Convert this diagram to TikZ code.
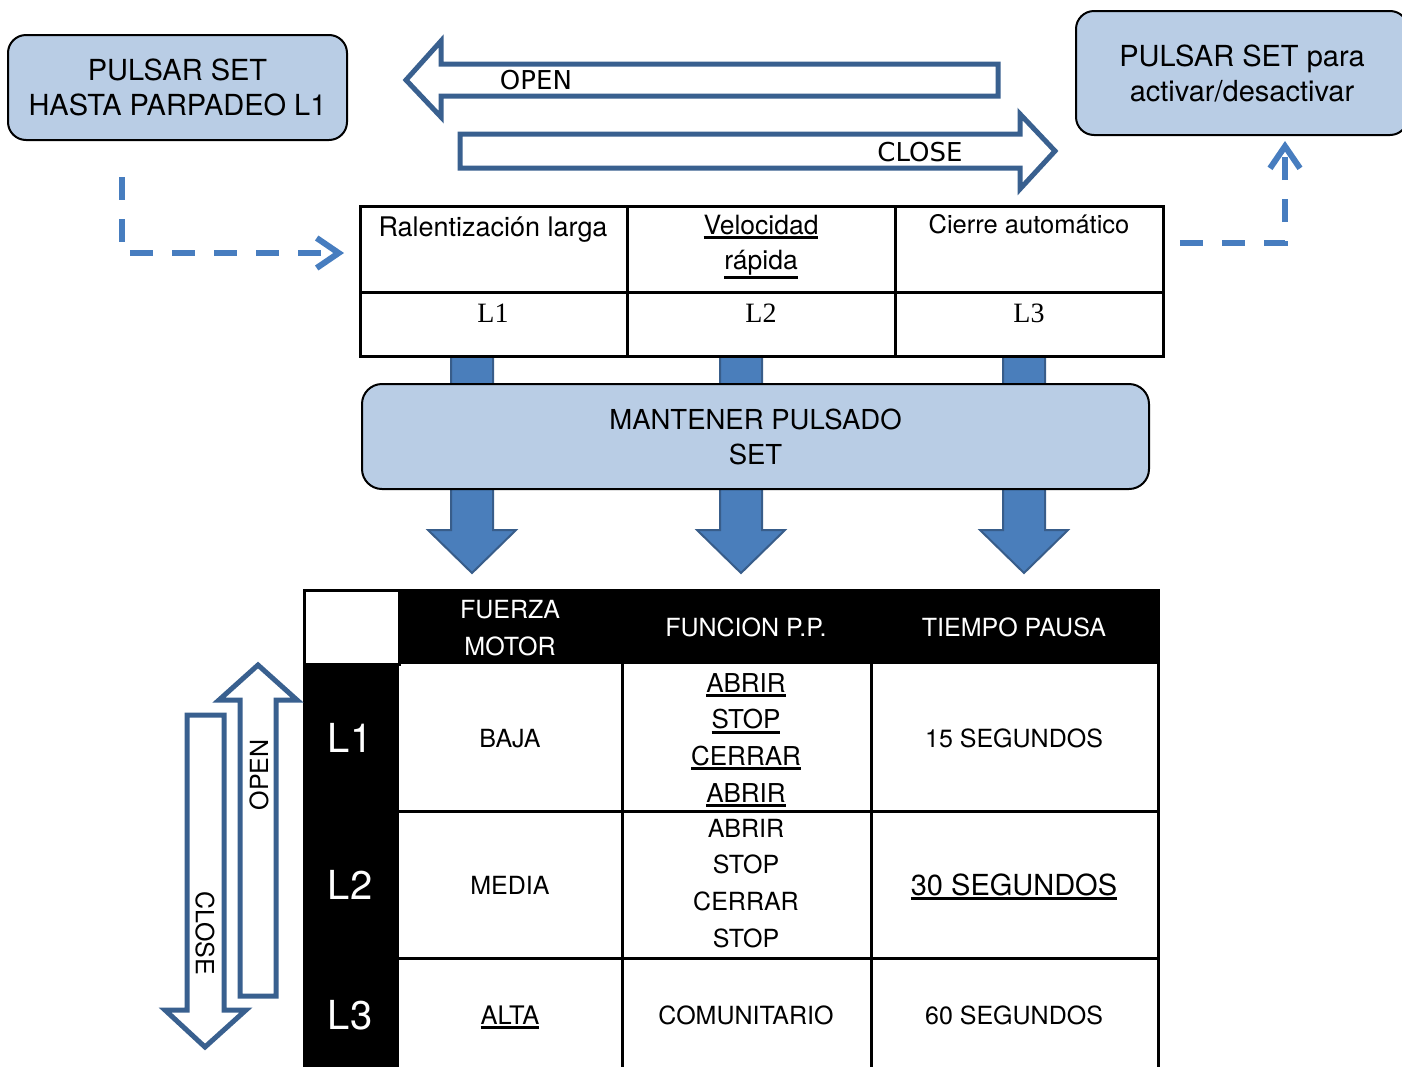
\documentclass[tikz,border=0pt]{standalone}
\usepackage{fontspec}
\setmainfont{TeX Gyre Heros}
\newfontfamily\verafont{DejaVu Sans}
\newfontfamily\timesfont{Liberation Serif}
\usetikzlibrary{arrows.meta}

\definecolor{boxblue}{RGB}{185,205,229}
\definecolor{frameblue}{RGB}{57,96,143}
\definecolor{blockblue}{RGB}{74,126,187}
\definecolor{blockedge}{RGB}{56,93,138}
\definecolor{dashblue}{RGB}{71,125,191}

\newcommand{\fs}[2]{\fontsize{#1}{#2}\selectfont}
\newcommand{\ulword}[1]{\setbox0\hbox{#1}\leavevmode\rlap{\vrule height -\dimexpr\dp0+1.5pt\relax depth \dimexpr\dp0+4.5pt\relax width \wd0}\box0}

\tikzset{
  setbox/.style={draw=black, line width=2pt, fill=boxblue, rounded corners=18pt,
    align=center, inner sep=0pt, font=\fs{29}{35}},
  hollow/.style={draw=frameblue, line width=5pt, fill=white},
  block/.style={draw=blockedge, line width=2pt, fill=blockblue},
  dashlink/.style={draw=dashblue, line width=6pt, dash pattern=on 23pt off 19pt,
    -{Straight Barb[length=22pt,width=30pt]}},
  gridline/.style={draw=black, line width=3pt},
  lbl/.style={inner sep=0pt, anchor=base},
  celltxt/.style={lbl, font=\fs{25}{30}},
}

\begin{document}
\begin{tikzpicture}[x=1pt,y=-1pt]
\useasboundingbox (0,0) rectangle (1402,1066);

% set boxes
\node[setbox, minimum width=339pt, minimum height=105pt] (pulsarL) at (177.5,87.5) {PULSAR SET\\HASTA PARPADEO L1};
\node[setbox, minimum width=332pt, minimum height=124pt] (pulsarR) at (1242,73) {PULSAR SET para\\activar/desactivar};

% open / close arrows on top
\draw[hollow] (998,64) -- (441,64) -- (441,41) -- (406,80) -- (441,117) -- (441,96) -- (998,96) -- cycle;
\node[font=\verafont\fs{26}{30}, inner sep=0pt] (openT) at (536,80) {OPEN};
\draw[hollow] (460,134) -- (1020,134) -- (1020,114) -- (1055,151) -- (1020,189) -- (1020,168) -- (460,168) -- cycle;
\node[font=\verafont\fs{26}{30}, inner sep=0pt] (closeT) at (920,152) {CLOSE};

% dashed links
\coordinate (fromL) at (122,177);
\coordinate (bendL) at (122,253);
\coordinate (toL) at (344,253);
\draw[dashlink] (fromL) -- (bendL) -- (toL);
\coordinate (fromR) at (1180,243);
\coordinate (bendR) at (1285,243);
\coordinate (toR) at (1285,141);
\draw[dashlink] (fromR) -- (bendR) -- (toR);

% block arrows down
\foreach \xc in {472,741,1024}
  \draw[block] ({\xc-21},356) -- ({\xc+21},356) -- ({\xc+21},530) -- ({\xc+44},530)
    -- (\xc,573) -- ({\xc-44},530) -- ({\xc-21},530) -- cycle;

% upper table
\draw[gridline] (360,206) rectangle (1163,356);
\draw[gridline] (360,292) -- (1163,292);
\draw[gridline] (627,206) -- (627,356) (895,206) -- (895,356);
\node[lbl, font=\fs{27}{32}] (ralen) at (493,236) {Ralentización larga};
\node[lbl, font=\fs{26.5}{32}] (veloc) at (761,234) {\ulword{Velocidad}};
\node[lbl, font=\fs{26.5}{32}] (rapida) at (761,269) {\ulword{rápida}};
\node[lbl, font=\fs{25.5}{30}] (cierre) at (1029,233) {Cierre automático};
\foreach \lv/\xc in {1/493,2/761,3/1029}
  \node[lbl, font=\timesfont\fs{28}{32}] (up\lv) at (\xc,322) {L\lv};

% hold box
\node[setbox, font=\fs{27.5}{35}, rounded corners=20pt, minimum width=787pt, minimum height=105pt] (hold) at (755.5,436.5) {MANTENER PULSADO\\SET};

% lower table
\fill[black] (399,590) rectangle (1158,664);
\fill[black] (304,664) rectangle (399,1070);
\draw[gridline] (304,1070) -- (304,590) -- (1158,590) -- (1158,1070);
\draw[gridline] (304,664) -- (399,664) -- (399,590);
\draw[gridline] (399,811) -- (1158,811) (399,958) -- (1158,958);
\draw[gridline] (622,664) -- (622,1070) (871,664) -- (871,1070);

\node[celltxt, text=white] (fuerza) at (510,618) {FUERZA};
\node[celltxt, text=white] (motor) at (510,655) {MOTOR};
\node[celltxt, text=white] (funcion) at (746,636) {FUNCION P.P.};
\node[celltxt, text=white] (tiempo) at (1014,636) {TIEMPO PAUSA};
\foreach \lv/\yb in {1/752,2/899,3/1029}
  \node[lbl, font=\fs{40}{48}, text=white] (lev\lv) at (350,\yb) {L\lv};

\node[celltxt] (baja) at (510,747) {BAJA};
\node[celltxt] (media) at (510,894) {MEDIA};
\node[celltxt, font=\fs{25.5}{30}] (alta) at (510,1024) {\ulword{ALTA}};

\foreach \w [count=\k] in {ABRIR,STOP,CERRAR,ABRIR}
  \node[celltxt, font=\fs{26}{30}] (ppA\k) at (746,{692+36.7*(\k-1)}) {\ulword{\w}};
\foreach \w [count=\k] in {ABRIR,STOP,CERRAR,STOP}
  \node[celltxt] (ppB\k) at (746,{837+36.7*(\k-1)}) {\w};
\node[celltxt] (comun) at (746,1024) {COMUNITARIO};

\node[celltxt] (t15) at (1014,747) {15 SEGUNDOS};
\node[celltxt, font=\fs{29}{34}] (t30) at (1014,895) {\ulword{30 SEGUNDOS}};
\node[celltxt] (t60) at (1014,1024) {60 SEGUNDOS};

% open / close arrows at the side
\draw[hollow] (240,996) -- (240,700) -- (219,700) -- (258,665) -- (297,700) -- (276,700) -- (276,996) -- cycle;
\node[font=\fs{25}{30}, rotate=90, inner sep=0pt] (openV) at (259,775) {OPEN};
\draw[hollow] (187,715) -- (224,715) -- (224,1010) -- (246,1010) -- (205,1047) -- (165,1010) -- (187,1010) -- cycle;
\node[font=\fs{25}{30}, rotate=-90, inner sep=0pt] (closeV) at (205,933) {CLOSE};
\end{tikzpicture}
\end{document}
